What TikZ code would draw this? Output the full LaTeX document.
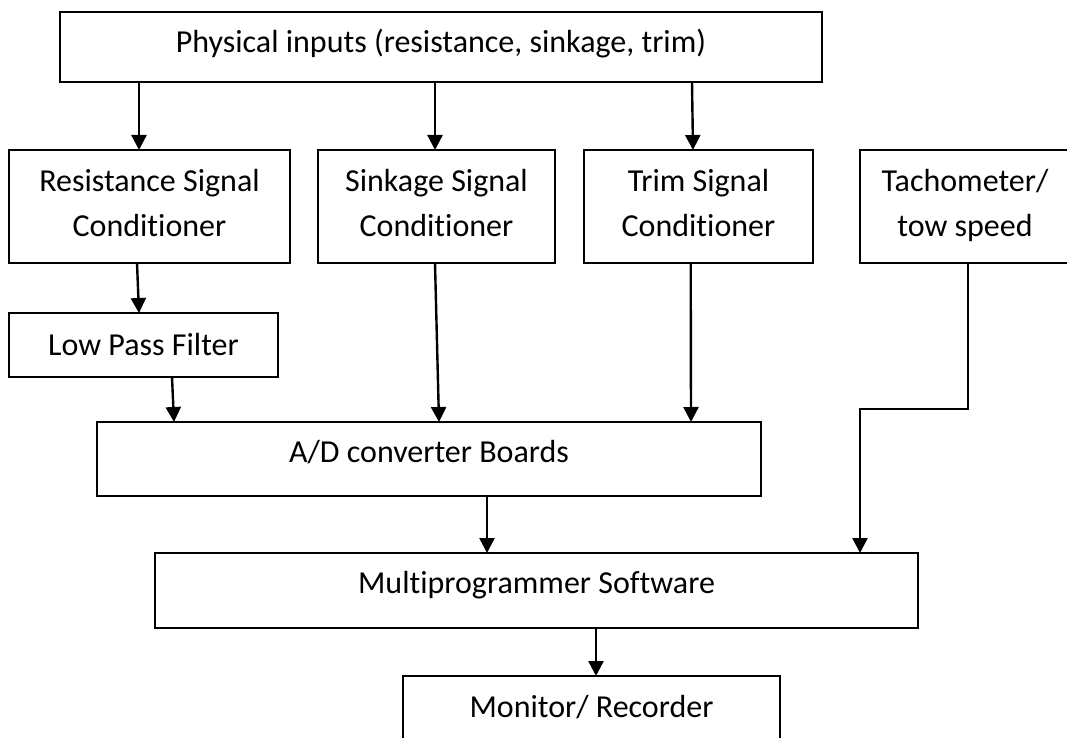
\documentclass[tikz,border=0pt]{standalone}
\usepackage{fontspec}
\setmainfont{Carlito}[Ligatures=NoCommon]
\usetikzlibrary{arrows.meta}
\begin{document}
\begin{tikzpicture}[x=1pt,y=-1pt,
  box/.style={draw, line width=1.8pt, rectangle, inner sep=0pt, outer sep=0pt,
    align=center, font=\fontsize{32}{44}\selectfont},
  twoline/.style={box, minimum height=113, text height=64, text depth=5},
  arr/.style={line width=2.4pt, -{Triangle[width=15pt,length=15pt]}}]
\useasboundingbox (0,0) rectangle (1067,738);
\clip (0,0) rectangle (1067,738);

% blocks
\node[box, minimum width=762, minimum height=70, text height=20, text depth=8]
  (top) at (441,47) {Physical inputs (resistance, sinkage, trim)};
\node[twoline, minimum width=281] (res) at (149.5,206.5)
  {Resistance Signal\\Conditioner};
\node[twoline, minimum width=237] (sink) at (436.5,206.5)
  {Sinkage Signal\\Conditioner};
\node[twoline, minimum width=229] (trim) at (698.5,206.5)
  {Trim Signal\\Conditioner};
\node[twoline, minimum width=210] (tach) at (965,206.5)
  {Tachometer/\\tow speed};
\node[box, minimum width=269, minimum height=64, text height=20, text depth=0]
  (lpf) at (143.5,345) {Low Pass Filter};
\node[box, minimum width=664, minimum height=74, text height=20, text depth=14]
  (ad) at (429,459) {A/D converter Boards};
\node[box, minimum width=763, minimum height=75, text height=20, text depth=15]
  (multi) at (536.5,590.5) {Multiprogrammer Software};
\node[box, minimum width=377, minimum height=94, text height=20, text depth=32]
  (mon) at (591.5,723) {Monitor/ Recorder};

% signal flow
\draw[arr] ([xshift=-302]top.south) -- ([xshift=-10.5]res.north);
\draw[arr] ([xshift=-6]top.south) -- ([xshift=-1.5]sink.north);
\draw[arr] ([xshift=251]top.south) -- ([xshift=-5.5]trim.north);
\draw[arr] ([xshift=-12.5]res.south) -- ([xshift=-4.5]lpf.north);
\draw[arr] ([xshift=28.5]lpf.south) -- ([xshift=-255]ad.north);
\draw[arr] ([xshift=-1.5]sink.south) -- ([xshift=10]ad.north);
\draw[arr] ([xshift=-7.8]trim.south) -- ([xshift=262]ad.north);
\draw[arr] ([xshift=58]ad.south) -- ([xshift=-49.5]multi.north);
\draw[arr] ([xshift=3]tach.south) -- ++(0,146) -| ([xshift=323.5]multi.north);
\draw[arr] ([xshift=59.5]multi.south) -- ([xshift=4.5]mon.north);
\end{tikzpicture}
\end{document}
